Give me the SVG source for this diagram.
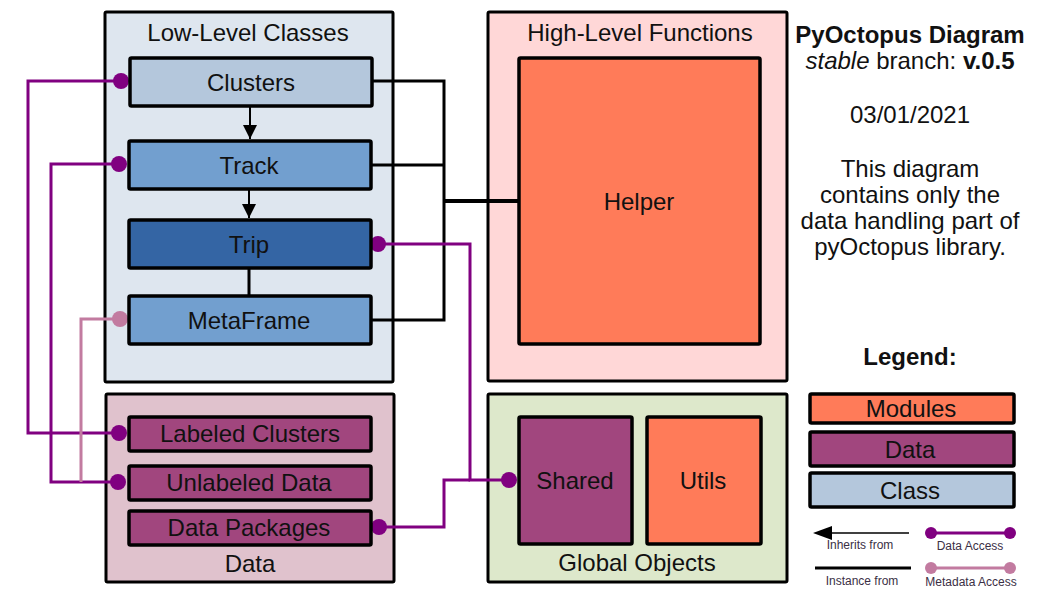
<svg xmlns="http://www.w3.org/2000/svg" width="1058" height="595" viewBox="0 0 1058 595">
<style>
text{font-family:"Liberation Sans",Arial,sans-serif;fill:#111;}
.c{text-anchor:middle;dominant-baseline:central;}
.t22{font-size:24px;}
.t23{font-size:24px;}
.t12{font-size:12px;fill:#3b2f45;}
.box{stroke:#000;stroke-width:3.5;}
.cont{stroke:#000;stroke-width:3;}
.blk{fill:none;stroke:#000;stroke-width:3;}
.pur{fill:none;stroke:#800080;stroke-width:3;}
.pnk{fill:none;stroke:#c27ba0;stroke-width:3;}
.dp{fill:#800080;}
.dk{fill:#c27ba0;}
</style>
<defs>
<marker id="tri" markerWidth="14" markerHeight="18" refX="14" refY="9" orient="auto" markerUnits="userSpaceOnUse">
<path d="M0,2 L14,9 L0,16 Z" fill="#000"/>
</marker>
</defs>

<!-- containers -->
<g id="low-level">
<rect x="105" y="12" width="288" height="370" rx="1.5" fill="#dee6ef" class="cont"/>
<text x="248" y="32" class="c t22">Low-Level Classes</text>
</g>
<g id="data-group">
<rect x="106" y="394" width="288" height="188" rx="1.5" fill="#e0c2cd" class="cont"/>
<text x="250" y="563" class="c t22">Data</text>
</g>
<g id="high-level">
<rect x="488" y="12" width="299" height="369" rx="1.5" fill="#ffd7d7" class="cont"/>
<text x="640" y="32" class="c t22">High-Level Functions</text>
</g>
<g id="global-objects">
<rect x="488" y="394" width="299" height="188" rx="1.5" fill="#dde8cb" class="cont"/>
<text x="637" y="562" class="c t22">Global Objects</text>
</g>

<!-- connectors -->
<g id="connectors">
<line x1="250" y1="107" x2="250" y2="139" stroke="#000" stroke-width="2" marker-end="url(#tri)"/>
<line x1="249" y1="190" x2="249" y2="218" stroke="#000" stroke-width="2" marker-end="url(#tri)"/>
<line x1="249" y1="269" x2="249" y2="295" stroke="#000" stroke-width="3"/>
<polyline class="blk" points="372,81 444,81 444,320 372,320"/>
<line x1="372" y1="165" x2="444" y2="165" stroke="#000" stroke-width="3"/>
<line x1="443" y1="201" x2="518" y2="201" stroke="#000" stroke-width="4"/>
<polyline class="pur" points="121,81 28,81 28,433 119,433"/>
<polyline class="pur" points="119,164 51,164 51,482 118,482"/>
<polyline class="pnk" points="120,319 81,319 81,482"/>
<polyline class="pur" points="378,244 470,244 470,480 509,480"/>
<polyline class="pur" points="379,527 444,527 444,480 470,480"/>
<circle cx="121" cy="81" r="8" class="dp"/>
<circle cx="119" cy="164" r="8" class="dp"/>
<circle cx="120" cy="319" r="8" class="dk"/>
<circle cx="119" cy="433" r="8" class="dp"/>
<circle cx="118" cy="482" r="8" class="dp"/>
<circle cx="378" cy="244" r="8" class="dp"/>
<circle cx="379" cy="527" r="8" class="dp"/>
<circle cx="509" cy="480" r="8" class="dp"/>
</g>

<!-- nodes -->
<g id="clusters">
<rect x="130" y="58" width="242" height="48" rx="1.5" fill="#b4c7dc" class="box"/>
<text x="251" y="82" class="c t23">Clusters</text>
</g>
<g id="track">
<rect x="129" y="141" width="242" height="48" rx="1.5" fill="#729fcf" class="box"/>
<text x="249" y="165" class="c t23">Track</text>
</g>
<g id="trip">
<rect x="129" y="220" width="242" height="48" rx="1.5" fill="#3465a4" class="box"/>
<text x="249" y="244" class="c t23">Trip</text>
</g>
<g id="metaframe">
<rect x="129" y="296" width="242" height="48" rx="1.5" fill="#729fcf" class="box"/>
<text x="249" y="320" class="c t23">MetaFrame</text>
</g>
<g id="labeled-clusters">
<rect x="129" y="417" width="242" height="34" rx="1.5" fill="#a1467e" class="box"/>
<text x="250" y="433" class="c t22">Labeled Clusters</text>
</g>
<g id="unlabeled-data">
<rect x="129" y="466" width="242" height="34" rx="1.5" fill="#a1467e" class="box"/>
<text x="249" y="482" class="c t22">Unlabeled Data</text>
</g>
<g id="data-packages">
<rect x="129" y="511" width="242" height="34" rx="1.5" fill="#a1467e" class="box"/>
<text x="249" y="527" class="c t22">Data Packages</text>
</g>
<g id="helper">
<rect x="519" y="58" width="241" height="286" rx="1.5" fill="#ff7b59" class="box"/>
<text x="639" y="201" class="c t22">Helper</text>
</g>
<g id="shared">
<rect x="519" y="417" width="113" height="127" rx="1.5" fill="#a1467e" class="box"/>
<text x="575" y="480" class="c t22">Shared</text>
</g>
<g id="utils">
<rect x="647" y="417" width="114" height="127" rx="1.5" fill="#ff7b59" class="box"/>
<text x="703" y="480" class="c t22">Utils</text>
</g>

<!-- info text -->
<g id="info">
<text x="910" y="34" class="c t22" font-weight="bold">PyOctopus Diagram</text>
<text x="910" y="60" class="c t22"><tspan font-style="italic">stable</tspan> branch: <tspan font-weight="bold">v.0.5</tspan></text>
<text x="910" y="114" class="c t22">03/01/2021</text>
<text x="910" y="168" class="c t22">This diagram</text>
<text x="910" y="194" class="c t22">contains only the</text>
<text x="910" y="220" class="c t22">data handling part of</text>
<text x="910" y="246" class="c t22">pyOctopus library.</text>
<text x="910" y="356" class="c t22" font-weight="bold">Legend:</text>
</g>

<!-- legend -->
<g id="legend">
<rect x="810" y="394" width="204" height="29" rx="1.5" fill="#ff7b59" class="box"/>
<text x="911" y="408" class="c t22">Modules</text>
<rect x="810" y="432" width="204" height="34" rx="1.5" fill="#a1467e" class="box"/>
<text x="910" y="449" class="c t22">Data</text>
<rect x="810" y="473" width="204" height="34" rx="1.5" fill="#b4c7dc" class="box"/>
<text x="910" y="490" class="c t22">Class</text>
<line x1="909" y1="533" x2="828" y2="533" stroke="#000" stroke-width="1.5"/>
<path d="M813,533 L832,526 L832,540 Z" fill="#000"/>
<text x="860" y="545" class="c t12">Inherits from</text>
<line x1="815" y1="568" x2="911" y2="568" stroke="#000" stroke-width="3"/>
<text x="862" y="581" class="c t12">Instance from</text>
<line x1="931" y1="533" x2="1010" y2="533" stroke="#800080" stroke-width="3"/>
<circle cx="931" cy="533" r="6" class="dp"/>
<circle cx="1010" cy="533" r="6" class="dp"/>
<text x="970" y="546" class="c t12">Data Access</text>
<line x1="931" y1="568" x2="1010" y2="568" stroke="#c27ba0" stroke-width="3"/>
<circle cx="931" cy="568" r="6" class="dk"/>
<circle cx="1010" cy="568" r="6" class="dk"/>
<text x="971" y="582" class="c t12">Metadata Access</text>
</g>
</svg>
